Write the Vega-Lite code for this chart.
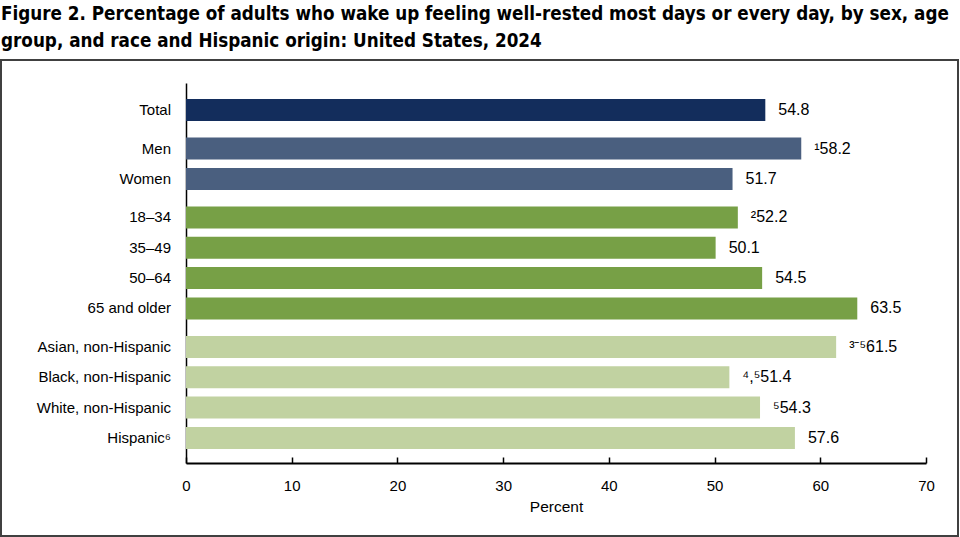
{
  "$schema": "https://vega.github.io/schema/vega-lite/v6.json",
  "width": 957,
  "height": 476,
  "autosize": {"type": "none"},
  "padding": {"left": 1, "top": 60, "right": 2, "bottom": 1},
  "background": "white",
  "title": {
    "text": ["Figure 2. Percentage of adults who wake up feeling well-rested most days or every day, by sex, age", "group, and race and Hispanic origin: United States, 2024"],
    "anchor": "start",
    "frame": "group",
    "font": "DejaVu Sans Condensed, Liberation Sans",
    "fontWeight": "bold",
    "fontSize": 18.7,
    "lineHeight": 27,
    "color": "#000000",
    "offset": 9
  },
  "config": {
    "font": "Liberation Sans",
    "view": {"stroke": "#404040", "strokeWidth": 2}
  },
  "data": {
    "values": [
      {"label": "Total", "group": "Total", "value": 54.8, "display": "54.8"},
      {"label": "Men", "group": "Sex", "value": 58.2, "display": "¹58.2"},
      {"label": "Women", "group": "Sex", "value": 51.7, "display": "51.7"},
      {"label": "18–34", "group": "Age group", "value": 52.2, "display": "²52.2"},
      {"label": "35–49", "group": "Age group", "value": 50.1, "display": "50.1"},
      {"label": "50–64", "group": "Age group", "value": 54.5, "display": "54.5"},
      {"label": "65 and older", "group": "Age group", "value": 63.5, "display": "63.5"},
      {"label": "Asian, non-Hispanic", "group": "Race and Hispanic origin", "value": 61.5, "display": "³⁻⁵61.5"},
      {"label": "Black, non-Hispanic", "group": "Race and Hispanic origin", "value": 51.4, "display": "⁴,⁵51.4"},
      {"label": "White, non-Hispanic", "group": "Race and Hispanic origin", "value": 54.3, "display": "⁵54.3"},
      {"label": "Hispanic⁶", "group": "Race and Hispanic origin", "value": 57.6, "display": "57.6"}
    ]
  },
  "encoding": {
    "y": {
      "field": "label",
      "type": "nominal",
      "sort": null,
      "scale": {"range": [23, 403], "paddingInner": 0, "paddingOuter": 0.7706, "align": 0.578},
      "axis": {"title": null, "labels": false, "ticks": false, "grid": false, "domainColor": "#000000", "domainWidth": 1.5, "offset": -185}
    },
    "yOffset": {
      "field": "group",
      "type": "nominal",
      "sort": null,
      "scale": {"type": "point", "range": [0, 24.9], "padding": 0}
    }
  },
  "layer": [
    {
      "mark": {"type": "bar", "height": 22},
      "encoding": {
        "x": {
          "field": "value",
          "type": "quantitative",
          "scale": {"domain": [0, 70], "range": [185, 925]},
          "axis": {
            "title": "Percent",
            "titleFontSize": 15.5,
            "titleFontWeight": "normal",
            "titleColor": "#000000",
            "titlePadding": 6,
            "values": [0, 10, 20, 30, 40, 50, 60, 70],
            "grid": false,
            "offset": -73,
            "domainColor": "#000000",
            "domainWidth": 2,
            "tickColor": "#000000",
            "tickWidth": 1.5,
            "tickSize": -6,
            "labelPadding": 21,
            "labelFlush": false,
            "labelFontSize": 15,
            "labelColor": "#000000"
          }
        },
        "color": {
          "field": "group",
          "type": "nominal",
          "scale": {"domain": ["Total", "Sex", "Age group", "Race and Hispanic origin"], "range": ["#132d5c", "#4a5f7f", "#77a046", "#c1d2a1"]},
          "legend": null
        }
      }
    },
    {
      "mark": {"type": "text", "align": "right", "baseline": "middle", "dx": -15, "fontSize": 15, "color": "#000000"},
      "encoding": {
        "x": {"datum": 0},
        "text": {"field": "label"}
      }
    },
    {
      "mark": {"type": "text", "align": "left", "baseline": "middle", "dx": 13, "fontSize": 16, "color": "#000000"},
      "encoding": {
        "x": {"field": "value", "type": "quantitative"},
        "text": {"field": "display"}
      }
    }
  ]
}
